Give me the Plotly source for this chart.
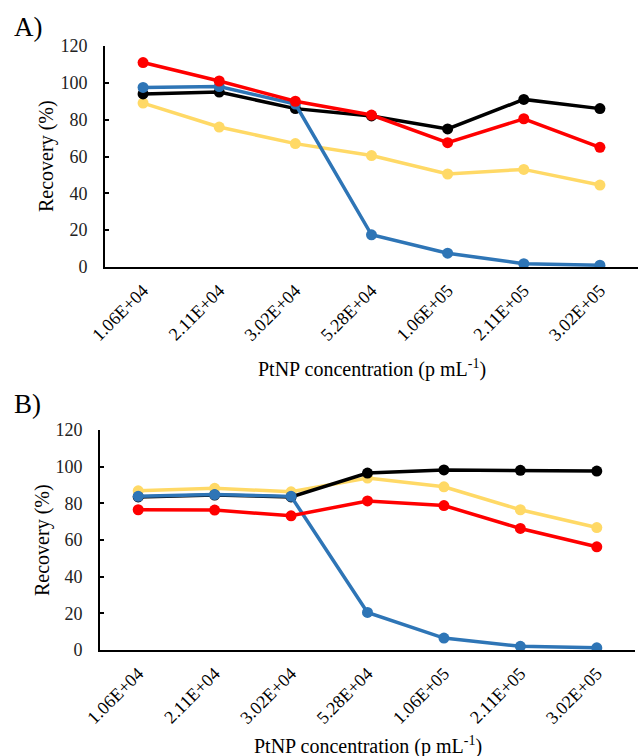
import plotly.graph_objects as go

categories = ["1.06E+04", "2.11E+04", "3.02E+04", "5.28E+04", "1.06E+05", "2.11E+05", "3.02E+05"]

# Panel A
a_black = [94, 95, 86, 82, 75, 91, 86]
a_red = [111, 101, 90, 82.5, 67.5, 80.5, 65]
a_yellow = [89, 76, 67, 60.5, 50.5, 53, 44.5]
a_blue = [97.5, 98, 88.5, 17.5, 7.5, 1.8, 1]

# Panel B
b_black = [83.5, 84.5, 83.5, 96.5, 98.2, 98, 97.6]
b_red = [76.5, 76.3, 73.2, 81.3, 78.8, 66.3, 56.3]
b_yellow = [86.8, 88.2, 86.3, 93.8, 89, 76.5, 66.8]
b_blue = [83.8, 84.8, 83.8, 20.5, 6.5, 2, 1.2]

colors = {"black": "#000000", "red": "#FF0000", "yellow": "#FFD966", "blue": "#2E75B6"}

FONT = "Liberation Serif"

fig = go.Figure()

def add_panel(xa, ya, series):
    for name, vals in series:
        fig.add_trace(go.Scatter(
            x=categories, y=vals, mode="lines+markers", xaxis=xa, yaxis=ya,
            line=dict(color=colors[name], width=3.5),
            marker=dict(color=colors[name], size=11),
            showlegend=False, hoverinfo="skip"))

add_panel("x", "y", [("yellow", a_yellow), ("black", a_black), ("blue", a_blue), ("red", a_red)])
add_panel("x2", "y2", [("yellow", b_yellow), ("black", b_black), ("blue", b_blue), ("red", b_red)])

W, H = 638, 756
def py(p):
    return 1 - p / H

xcommon = dict(type="category", range=[-0.5, 6.5], showline=True, linecolor="black", linewidth=2,
               showgrid=False, zeroline=False, ticks="", tickangle=-45, automargin=False,
               ticklabelstandoff=4,
               tickfont=dict(family=FONT, size=18, color="black"))
ycommon = dict(range=[0, 120], dtick=20, showline=True, linecolor="black", linewidth=2,
               showgrid=False, zeroline=False, ticks="inside", ticklen=4, tickwidth=2, tickcolor="black",
               ticklabelstandoff=12, automargin=False,
               tickfont=dict(family=FONT, size=18, color="#222222"))

fig.update_layout(
    width=W, height=H, margin=dict(l=0, r=0, t=0, b=0, autoexpand=False),
    paper_bgcolor="white", plot_bgcolor="white",
    font=dict(family=FONT, color="black"),
    xaxis=dict(domain=[105 / W, 1.0], anchor="y", **xcommon),
    yaxis=dict(domain=[py(267), py(46)], anchor="x", **ycommon),
    xaxis2=dict(domain=[100 / W, 635 / W], anchor="y2", **xcommon),
    yaxis2=dict(domain=[py(650), py(430)], anchor="x2", **ycommon),
)

ann = []
def text(x, y, s, size, angle=0):
    ann.append(dict(x=x / W, y=py(y), xref="paper", yref="paper", text=s, showarrow=False,
                    xanchor="center", yanchor="middle", textangle=angle,
                    font=dict(family=FONT, size=size, color="black")))

text(28, 27, "A)", 27)
text(27, 404, "B)", 27)
text(47, 156, "Recovery (%)", 20, -90)
text(42, 540, "Recovery (%)", 20, -90)
text(372, 368, "PtNP concentration (p mL<sup>-1</sup>)", 20)
text(368, 745, "PtNP concentration (p mL<sup>-1</sup>)", 20)
fig.update_layout(annotations=ann)

fig.write_html("out.html")
